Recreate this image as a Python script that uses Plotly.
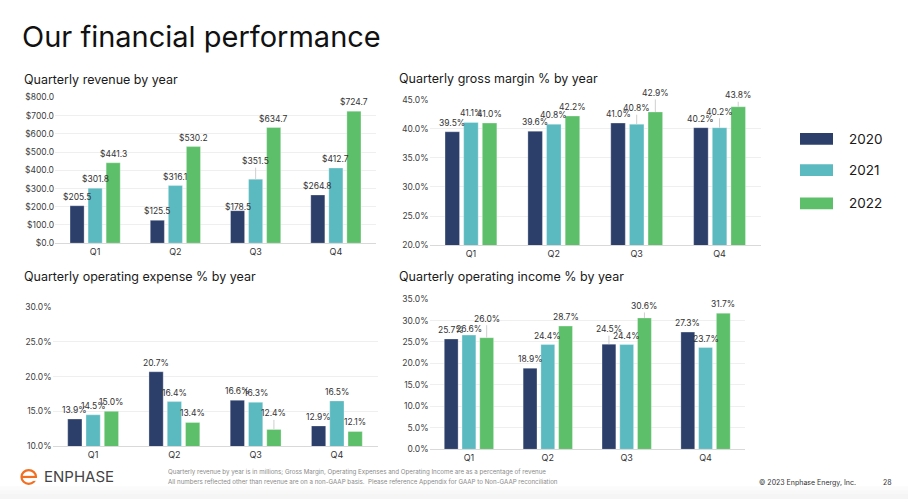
import plotly.graph_objects as go

W, H = 908, 504

quarters = ["Q1", "Q2", "Q3", "Q4"]
years = ["2020", "2021", "2022"]

rev_2020 = [205.5, 125.5, 178.5, 264.8]
rev_2021 = [301.8, 316.1, 351.5, 412.7]
rev_2022 = [441.3, 530.2, 634.7, 724.7]

gm_2020 = [39.5, 39.6, 41.0, 40.2]
gm_2021 = [41.1, 40.8, 40.8, 40.2]
gm_2022 = [41.0, 42.2, 42.9, 43.8]

opex_2020 = [13.9, 20.7, 16.6, 12.9]
opex_2021 = [14.5, 16.4, 16.3, 16.5]
opex_2022 = [15.0, 13.4, 12.4, 12.1]

oi_2020 = [25.7, 18.9, 24.5, 27.3]
oi_2021 = [26.6, 24.4, 24.4, 23.7]
oi_2022 = [26.0, 28.7, 30.6, 31.7]

colors = ["#2C3F6B", "#5BBAC0", "#5DBF69"]
FONT = "Inter"

def px_x(p):
    return p / W

def px_y(p):
    return 1 - p / H

BARGAP = 0.325
GROUPGAP = 0.22
SLOT = (1 - BARGAP) / 3

charts = [
    dict(series=[rev_2020, rev_2021, rev_2022], ax="", xd=(55, 376), yd=(243, 94.3),
         rng=[0, 800], dtick=100, pre="$", suf="",
         special={(2, 0): (4, False), (2, 1): (18, True)}),
    dict(series=[gm_2020, gm_2021, gm_2022], ax="2", xd=(429.5, 761), yd=(245, 96.7),
         rng=[20, 45], dtick=5, pre="", suf="%",
         special={(2, 1): (16, True), (2, 2): (19, True), (3, 1): (16, True), (3, 2): (11.5, True)}),
    dict(series=[opex_2020, opex_2021, opex_2022], ax="3", xd=(52.5, 377.5), yd=(450, 308.3),
         rng=[10, 30], dtick=5, pre="", suf="%",
         special={(2, 2): (16, True)}),
    dict(series=[oi_2020, oi_2021, oi_2022], ax="4", xd=(429.5, 745), yd=(453.3, 300),
         rng=[0, 35], dtick=5, pre="", suf="%",
         special={(0, 1): (6, False), (0, 2): (19, True), (2, 0): (15, True), (2, 2): (12, True)}),
]

fig = go.Figure()
annotations = []
layout = {}

for ci, c in enumerate(charts):
    xa = "x" + c["ax"]
    ya = "y" + c["ax"]
    for yi, vals in enumerate(c["series"]):
        fig.add_trace(go.Bar(
            x=quarters, y=vals, name=years[yi], xaxis=xa, yaxis=ya,
            marker=dict(color=colors[yi], line=dict(color="rgba(255,255,255,0.5)", width=0.6)),
            showlegend=False, hoverinfo="skip",
        ))
        for qi, v in enumerate(vals):
            off, leader = c["special"].get((qi, yi), (9, False))
            txt = f"{c['pre']}{v:.1f}{c['suf']}"
            xpos = qi + (yi - 1) * SLOT
            if leader:
                annotations.append(dict(
                    x=xpos, y=v, xref=xa, yref=ya, text=txt, showarrow=True,
                    ax=0, ay=-off, arrowhead=0, arrowwidth=1, arrowcolor="#cfcfcf",
                    standoff=0, startstandoff=0,
                    font=dict(family=FONT, size=8.5, color="#333333"),
                ))
            else:
                annotations.append(dict(
                    x=xpos, y=v, xref=xa, yref=ya, text=txt, showarrow=False,
                    yshift=off, yanchor="middle",
                    font=dict(family=FONT, size=8.5, color="#333333"),
                ))
    layout["xaxis" + c["ax"]] = dict(
        domain=[px_x(c["xd"][0]), px_x(c["xd"][1])], anchor=ya, type="category",
        showgrid=False, showline=True, linecolor="#d9d9d9", linewidth=1,
        tickfont=dict(family=FONT, size=9, color="#333333"), ticks="", fixedrange=True,
    )
    layout["yaxis" + c["ax"]] = dict(
        domain=[px_y(c["yd"][0]), px_y(c["yd"][1])], anchor=xa,
        range=c["rng"], dtick=c["dtick"], tick0=0, tickformat=".1f",
        tickprefix=c["pre"], ticksuffix=c["suf"],
        showgrid=True, gridcolor="#efefef", gridwidth=1, zeroline=False, showline=False,
        tickfont=dict(family=FONT, size=8.5, color="#404040"), ticks="", fixedrange=True,
    )

def text(x, y, s, size, color="#111111", xanchor="left", yanchor="middle"):
    annotations.append(dict(x=px_x(x), y=px_y(y), xref="paper", yref="paper", text=s,
                            showarrow=False, xanchor=xanchor, yanchor=yanchor,
                            font=dict(family=FONT, size=size, color=color)))

text(20, 32.5, "Our financial performance", 29, "#111111")
text(22, 75.5, "Quarterly revenue by year", 12.5, "#1a1a1a")
text(397, 74.5, "Quarterly gross margin % by year", 12.5, "#1a1a1a")
text(22, 276.5, "Quarterly operating expense % by year", 12.5, "#1a1a1a")
text(397, 276.5, "Quarterly operating income % by year", 12.5, "#1a1a1a")

shapes = []
for i, (yc, yr) in enumerate(zip([136.5, 168.5, 202.5], years)):
    shapes.append(dict(type="rect", xref="paper", yref="paper",
                       x0=px_x(800), x1=px_x(833), y0=px_y(yc + 6), y1=px_y(yc - 6),
                       fillcolor=colors[i], line=dict(width=0)))
    text(847, yc, yr, 13.5, "#1a1a1a")

for k, col in enumerate(["#fbfbfb", "#f8f8f8", "#f5f5f5"]):
    shapes.append(dict(type="rect", xref="paper", yref="paper", layer="below",
                       x0=0, x1=1, y0=px_y(504), y1=px_y(491 + k * 4),
                       fillcolor=col, line=dict(width=0)))

shapes.append(dict(type="circle", xref="paper", yref="paper",
                   x0=px_x(21.5), x1=px_x(36), y0=px_y(488.5), y1=px_y(474.5),
                   line=dict(color="#F26F21", width=2.2)))
shapes.append(dict(type="line", xref="paper", yref="paper",
                   x0=px_x(21.5), x1=px_x(36), y0=px_y(481.5), y1=px_y(481.5),
                   line=dict(color="#F26F21", width=2.2)))
shapes.append(dict(type="rect", xref="paper", yref="paper",
                   x0=px_x(31), x1=px_x(38), y0=px_y(485.5), y1=px_y(482.6),
                   fillcolor="white", line=dict(width=0)))
text(42, 481.5, "ENPHASE", 15, "#444444")

text(166, 476.5, "Quarterly revenue by year is in millions; Gross Margin, Operating Expenses and Operating Income are as a percentage of revenue", 6.2, "#8a8a8a")
text(166, 486.3, "All numbers reflected other than revenue are on a non-GAAP basis.  Please reference Appendix for GAAP to Non-GAAP reconciliation", 6.2, "#8a8a8a")
text(858, 486.7, "© 2023 Enphase Energy, Inc.", 7, "#333333", xanchor="right")
text(894, 486.7, "28", 7, "#333333", xanchor="right")

fig.update_layout(
    width=W, height=H, margin=dict(l=0, r=0, t=0, b=0),
    paper_bgcolor="white", plot_bgcolor="white",
    barmode="group", bargap=BARGAP, bargroupgap=GROUPGAP,
    annotations=annotations, shapes=shapes, showlegend=False,
    font=dict(family=FONT),
    **layout,
)

fig.write_html("out.html", config={"displayModeBar": False},
               post_script="document.body.style.margin='0';document.body.style.overflow='hidden';")
